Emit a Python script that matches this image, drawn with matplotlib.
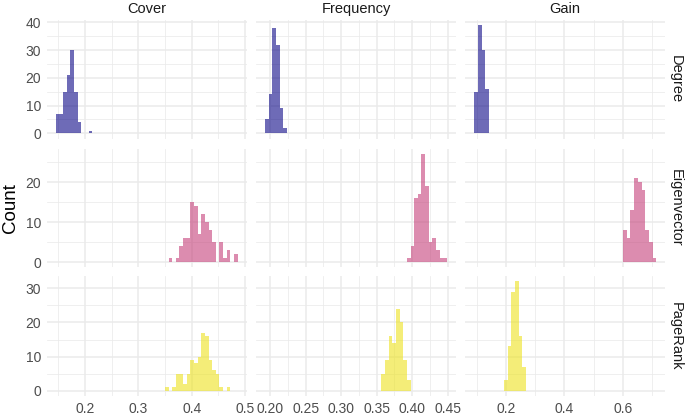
import numpy as np
import matplotlib
matplotlib.use("Agg")
import matplotlib.pyplot as plt
from matplotlib.ticker import MultipleLocator

# facets
measures = ["Cover", "Frequency", "Gain"]
centralities = ["Degree", "Eigenvector", "PageRank"]

# histogram bins per column: (origin, bin width)
bin_origin = {"Cover": 0.1450, "Frequency": 0.1930, "Gain": 0.0910}
bin_width = {"Cover": 0.00682, "Frequency": 0.005117, "Gain": 0.01273}

# counts: (first bin index, counts)
degree_cover = (0, [7, 7, 15, 21, 30, 15, 4, 0, 0, 1])
degree_frequency = (0, [5, 14, 38, 32, 9, 2])
degree_gain = (0, [15, 39, 30, 16])

eigen_cover = (31, [1, 0, 1, 4, 6, 6, 15, 14, 7, 12, 10, 8, 5, 0, 5, 1, 3, 0, 2])
eigen_frequency = (39, [1, 4, 16, 17, 27, 19, 5, 6, 3, 1, 1])
eigen_gain = (40, [8, 6, 13, 21, 20, 18, 8, 5, 1])

pagerank_cover = (30, [1, 0, 1, 5, 5, 2, 5, 9, 8, 10, 17, 16, 9, 6, 5, 1, 0, 1])
pagerank_frequency = (32, [5, 9, 16, 14, 24, 20, 9, 3])
pagerank_gain = (8, [3, 13, 29, 32, 16, 7])

hist_data = {
    ("Degree", "Cover"): degree_cover,
    ("Degree", "Frequency"): degree_frequency,
    ("Degree", "Gain"): degree_gain,
    ("Eigenvector", "Cover"): eigen_cover,
    ("Eigenvector", "Frequency"): eigen_frequency,
    ("Eigenvector", "Gain"): eigen_gain,
    ("PageRank", "Cover"): pagerank_cover,
    ("PageRank", "Frequency"): pagerank_frequency,
    ("PageRank", "Gain"): pagerank_gain,
}

colors = {"Degree": "#0D0887", "Eigenvector": "#C5407A", "PageRank": "#EDE21F"}

# axis setup
x_major = {"Cover": 0.1, "Frequency": 0.05, "Gain": 0.2}
x_fmt = {"Cover": "{:.1f}", "Frequency": "{:.2f}", "Gain": "{:.1f}"}
y_major = {"Degree": 10, "Eigenvector": 10, "PageRank": 10}

W, H = 685, 416
col_px = [(46.7, 246.7), (256, 456), (465, 665.5)]
row_px = [(19.7, 138.7), (148.9, 267.4), (276, 396.2)]

plt.rcParams["font.family"] = ["Liberation Sans", "DejaVu Sans"]
fig = plt.figure(figsize=(W / 100, H / 100), dpi=100)

grid_col = "#EBEBEB"
tick_col = "#4D4D4D"


def edges_for(meas, start, n):
    return bin_origin[meas] + bin_width[meas] * (start + np.arange(n + 1))


# x limits per column with 5% expansion, y limits per row
xlims = {}
for meas in measures:
    lo, hi = [], []
    for cen in centralities:
        start, counts = hist_data[(cen, meas)]
        e = edges_for(meas, start, len(counts))
        lo.append(e[0])
        hi.append(e[-1])
    a, b = min(lo), max(hi)
    pad = 0.05 * (b - a)
    xlims[meas] = (a - pad, b + pad)

ylims = {}
for cen in centralities:
    top = max(max(hist_data[(cen, m)][1]) for m in measures)
    ylims[cen] = (-0.05 * top, 1.05 * top)

for r, cen in enumerate(centralities):
    for c, meas in enumerate(measures):
        l, rr = col_px[c]
        t, b = row_px[r]
        ax = fig.add_axes([l / W, 1 - b / H, (rr - l) / W, (b - t) / H])
        start, counts = hist_data[(cen, meas)]
        e = edges_for(meas, start, len(counts))
        ax.bar(e[:-1], counts, width=np.diff(e), align="edge",
               color=colors[cen], alpha=0.6, linewidth=0, zorder=3)
        ax.set_xlim(xlims[meas])
        ax.set_ylim(ylims[cen])

        ax.xaxis.set_major_locator(MultipleLocator(x_major[meas]))
        ax.xaxis.set_minor_locator(MultipleLocator(x_major[meas] / 2))
        ax.yaxis.set_major_locator(MultipleLocator(y_major[cen]))
        ax.yaxis.set_minor_locator(MultipleLocator(y_major[cen] / 2))
        ax.grid(which="major", color=grid_col, linewidth=1.1, zorder=0)
        ax.grid(which="minor", color=grid_col, linewidth=0.55, zorder=0)
        ax.set_axisbelow(True)
        for s in ax.spines.values():
            s.set_visible(False)
        ax.tick_params(which="both", length=0, colors=tick_col, labelsize=10, pad=4)

        if r == len(centralities) - 1:
            ax.set_xticks(ax.get_xticks())
            ax.set_xticklabels([x_fmt[meas].format(v) for v in ax.get_xticks()])
            ax.set_xlim(xlims[meas])
        else:
            ax.tick_params(labelbottom=False)
        if c != 0:
            ax.tick_params(labelleft=False)

        if r == 0:
            ax.text(0.5, 1.0 + 11 / (b - t), meas, transform=ax.transAxes,
                    ha="center", va="center", fontsize=10.5, color="#1A1A1A")
        if c == len(measures) - 1:
            ax.text(1.0 + 10 / (rr - l), 0.5, cen, transform=ax.transAxes,
                    ha="center", va="center", rotation=-90, fontsize=10.5,
                    color="#1A1A1A")

fig.text(11 / W, 1 - 208 / H, "Count", rotation=90, ha="center", va="center",
         fontsize=13.5, color="black")

fig.savefig("out.png", dpi=100)
